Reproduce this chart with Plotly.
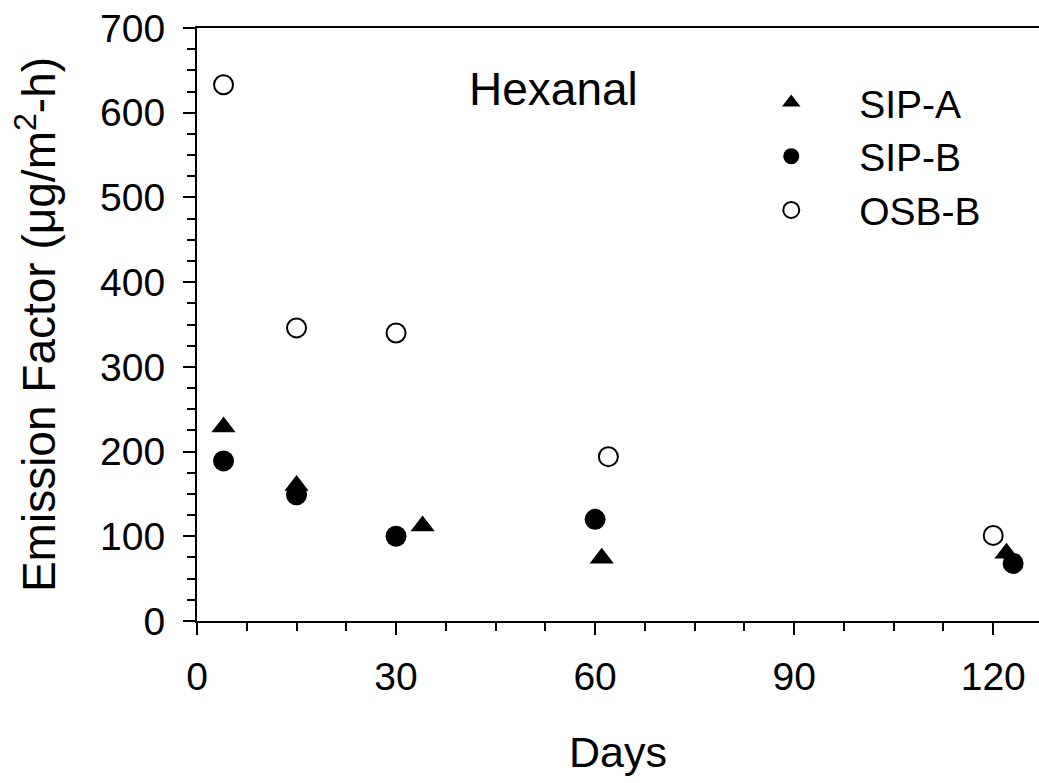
import plotly.graph_objects as go

# Data
sip_a_days = [4, 15, 34, 61, 122]
sip_a_ef = [229, 160, 112, 74, 80]

sip_b_days = [4, 15, 30, 60, 123]
sip_b_ef = [189, 149, 100, 120, 68]

osb_b_days = [4, 15, 30, 62, 120]
osb_b_ef = [633, 346, 340, 194, 101]

x_ticks = [0, 30, 60, 90, 120]
y_ticks = [0, 100, 200, 300, 400, 500, 600, 700]

FONT = "Liberation Sans, Arial, sans-serif"

fig = go.Figure()
fig.add_trace(go.Scatter(
    x=sip_a_days, y=sip_a_ef, mode="markers", name="SIP-A",
    marker=dict(symbol="triangle-up", size=21, color="black", line=dict(width=0)),
))
fig.add_trace(go.Scatter(
    x=sip_b_days, y=sip_b_ef, mode="markers", name="SIP-B",
    marker=dict(symbol="circle", size=21, color="black", line=dict(width=0)),
))
fig.add_trace(go.Scatter(
    x=osb_b_days, y=osb_b_ef, mode="markers", name="OSB-B",
    marker=dict(symbol="circle", size=19, color="white", line=dict(width=2, color="black")),
))

fig.add_annotation(
    text="Hexanal", xref="paper", yref="paper", x=0.423, y=0.897,
    showarrow=False, font=dict(family=FONT, size=46, color="black"),
    xanchor="center", yanchor="middle",
)

fig.update_layout(
    width=1039, height=783,
    margin=dict(l=197, r=0, t=28, b=162),
    plot_bgcolor="white", paper_bgcolor="white",
    font=dict(family=FONT, color="black"),
    showlegend=True,
    legend=dict(
        x=0.625, y=0.928, xanchor="left", yanchor="top",
        font=dict(family=FONT, size=39, color="black"),
        itemwidth=126, itemsizing="trace", bgcolor="rgba(0,0,0,0)",
        tracegroupgap=0,
    ),
    xaxis=dict(
        range=[0, 126.9], tickvals=x_ticks, ticks="outside", ticklen=12, tickwidth=2,
        tickcolor="black", showline=True, linewidth=2, linecolor="black", mirror=True,
        showgrid=False, zeroline=False,
        tickfont=dict(family=FONT, size=39, color="black"),
        minor=dict(dtick=7.5, tick0=0, ticks="outside", ticklen=8, tickwidth=2, tickcolor="black", showgrid=False),
        title=dict(text="Days", font=dict(family=FONT, size=43, color="black"), standoff=40),
        ticklabelstandoff=8,
    ),
    yaxis=dict(
        range=[0, 700], tickvals=y_ticks, ticks="outside", ticklen=12, tickwidth=2,
        tickcolor="black", showline=True, linewidth=2, linecolor="black", mirror=False,
        showgrid=False, zeroline=False,
        tickfont=dict(family=FONT, size=39, color="black"),
        minor=dict(dtick=25, tick0=0, ticks="outside", ticklen=8, tickwidth=2, tickcolor="black", showgrid=False),
        title=dict(text="Emission Factor (μg/m<sup>2</sup>-h)", font=dict(family=FONT, size=46, color="black"), standoff=30),
        ticklabelstandoff=10,
    ),
)

fig.write_html("out.html", config={"displayModeBar": False},
               post_script="document.body.style.margin='0';")
